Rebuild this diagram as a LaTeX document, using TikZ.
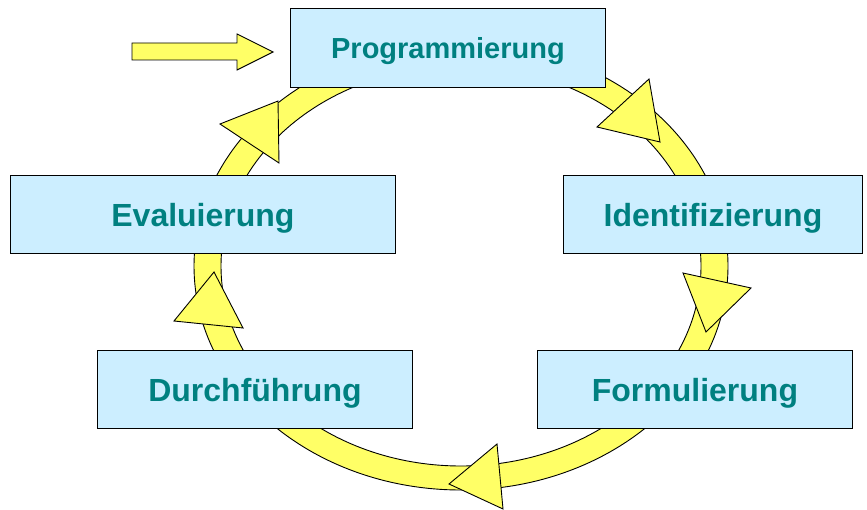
\documentclass[tikz,border=0pt]{standalone}
\usepackage{fontspec}
\setmainfont{Liberation Sans}
\definecolor{ringyellow}{HTML}{FFFF66}
\definecolor{boxblue}{HTML}{CCEEFF}
\definecolor{textteal}{HTML}{008080}
\begin{document}
\begin{tikzpicture}[x=1pt,y=-1pt,
  stagebox/.style={draw=black, line width=0.9pt, fill=boxblue, text=textteal,
    font=\fontsize{32}{36}\selectfont\bfseries, inner sep=0pt, anchor=north west,
    text height=30pt, text depth=6pt},
  yellowshape/.style={draw=black, line width=0.9pt, fill=ringyellow, line join=miter}]
\useasboundingbox (0,0) rectangle (867,510);
% ring
\coordinate (c) at (461,266);
\filldraw[yellowshape, even odd rule] (c) ellipse [x radius=267, y radius=224]
  (c) ellipse [x radius=240, y radius=200];
% boxes
\node[stagebox, font=\fontsize{29}{33}\selectfont\bfseries, text height=27pt,
  minimum width=315pt, minimum height=79pt] (prog) at (290,8) {Programmierung};
\node[stagebox, minimum width=385pt, minimum height=78pt] (eval) at (10,175) {Evaluierung};
\node[stagebox, minimum width=299pt, minimum height=78pt] (iden) at (563,175) {Identifizierung};
\node[stagebox, minimum width=315pt, minimum height=78pt] (durch) at (97,350) {Durchführung};
\node[stagebox, minimum width=315pt, minimum height=78pt] (form) at (537,350) {Formulierung};
% arrowheads on the ring
\coordinate (a1a) at (649,79); \coordinate (a1b) at (597,127); \coordinate (a1t) at (660,142);
\coordinate (a2a) at (683,273); \coordinate (a2b) at (751,288); \coordinate (a2t) at (706,332);
\coordinate (a3a) at (497,444); \coordinate (a3b) at (503,509); \coordinate (a3t) at (449,484);
\coordinate (a4a) at (174,321); \coordinate (a4b) at (243,328); \coordinate (a4t) at (214,272);
\coordinate (a5a) at (278,101); \coordinate (a5b) at (279,163); \coordinate (a5t) at (220,124);
\foreach \n in {a1,a2,a3,a4,a5}
  \filldraw[yellowshape] (\n a) -- (\n t) -- (\n b) -- cycle;
% entry arrow
\coordinate (e0) at (132,43);
\coordinate (etip) at (273,52);
\filldraw[yellowshape] (e0) -- (237,43) -- (237,34) -- (etip) -- (237,70) -- (237,60) -- (132,60) -- cycle;
\end{tikzpicture}
\end{document}
